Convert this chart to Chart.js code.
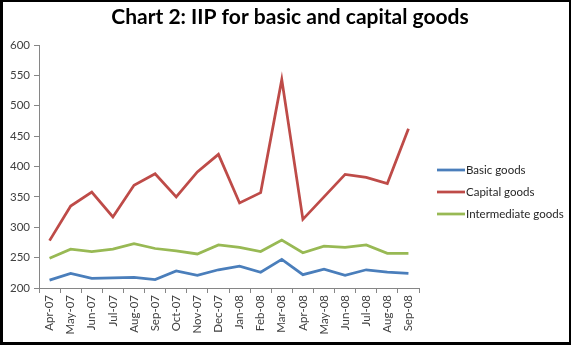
<!DOCTYPE html>
<html>
<head>
<meta charset="utf-8">
<script src="https://cdn.jsdelivr.net/npm/chart.js@4"></script>
<style>
  html, body { margin: 0; padding: 0; background: #fff; }
  #wrap { position: relative; width: 571px; height: 345px; }
  #frame {
    position: absolute; left: 0; top: 0; right: 0; bottom: 0;
    border-style: solid; border-color: #000;
    border-width: 2px 2px 3px 3px;
    pointer-events: none;
  }
</style>
</head>
<body>
<div id="wrap">
  <canvas id="myChart" width="571" height="345"></canvas>
  <div id="frame"></div>
</div>
<script>
// meses
const meses = ["Apr-07", "May-07", "Jun-07", "Jul-07", "Aug-07", "Sep-07", "Oct-07", "Nov-07", "Dec-07",
  "Jan-08", "Feb-08", "Mar-08", "Apr-08", "May-08", "Jun-08", "Jul-08", "Aug-08", "Sep-08"];

// valores de cada serie
const basicGoods = [213, 224, 216, 216.5, 217.5, 214, 228, 221, 230, 236, 226, 247, 222, 231, 221, 230, 226, 224];
const capitalGoods = [278, 335, 358, 317, 369, 388, 350, 391, 420, 340, 357, 543, 313, 350, 387, 382, 372, 462];
const intermediateGoods = [249, 264, 260, 264, 273, 265, 261, 256, 271, 267, 260, 279, 258, 269, 267, 271, 257, 257];

// ticks eje y
const yMin = 200;
const yMax = 600;
const yStep = 50;

const titulo = "Chart 2: IIP for basic and capital goods";
const fuente = "Lato, 'Liberation Sans', sans-serif";

// titulo y leyenda dibujados a mano
const extras = {
  id: "extras",
  afterDraw(chart) {
    const ctx = chart.ctx;
    ctx.save();
    ctx.fillStyle = "#000";
    ctx.font = "bold 21px " + fuente;
    ctx.textAlign = "center";
    ctx.textBaseline = "alphabetic";
    ctx.fillText(titulo, 290, 24);
    ctx.restore();

    const x0 = 437, largo = 28;
    const ys = [170, 192, 214];
    chart.data.datasets.forEach((ds, i) => {
      ctx.save();
      ctx.strokeStyle = ds.borderColor;
      ctx.lineWidth = ds.borderWidth;
      ctx.beginPath();
      ctx.moveTo(x0, ys[i]);
      ctx.lineTo(x0 + largo, ys[i]);
      ctx.stroke();
      ctx.fillStyle = "#262626";
      ctx.font = "11.5px " + fuente;
      ctx.textBaseline = "middle";
      ctx.fillText(ds.label, x0 + largo + 1, ys[i]);
      ctx.restore();
    });
  }
};

const data = {
  labels: meses,
  datasets: [
    { label: "Basic goods", data: basicGoods, borderColor: "#4a7ebb", borderWidth: 2.75 },
    { label: "Capital goods", data: capitalGoods, borderColor: "#be4b48", borderWidth: 2.75 },
    { label: "Intermediate goods", data: intermediateGoods, borderColor: "#98b954", borderWidth: 2.75 }
  ]
};

const config = {
  type: "line",
  data,
  options: {
    responsive: false,
    animation: false,
    elements: { point: { radius: 0 }, line: { tension: 0 } },
    layout: { padding: { left: 0, right: 152, top: 45, bottom: 0 } },
    plugins: {
      legend: { display: false },
      tooltip: { enabled: false },
      title: { display: false }
    },
    scales: {
      x: {
        offset: true,
        grid: { offset: true, drawOnChartArea: false, drawTicks: true, tickLength: 5, color: "#868686" },
        border: { color: "#868686" },
        ticks: {
          maxRotation: 90, minRotation: 90, autoSkip: false,
          color: "#404040", font: { family: fuente, size: 11.5 }, padding: 2
        },
        afterFit(s) { s.height = 57; }
      },
      y: {
        min: yMin, max: yMax,
        grid: { drawOnChartArea: false, drawTicks: true, tickLength: 5, color: "#868686" },
        border: { color: "#868686" },
        ticks: { stepSize: yStep, color: "#404040", font: { family: fuente, size: 11.5 }, padding: 4 },
        afterFit(s) { s.width = 39; }
      }
    }
  },
  plugins: [extras]
};

const myChart = new Chart(document.getElementById("myChart"), config);
</script>
</body>
</html>
